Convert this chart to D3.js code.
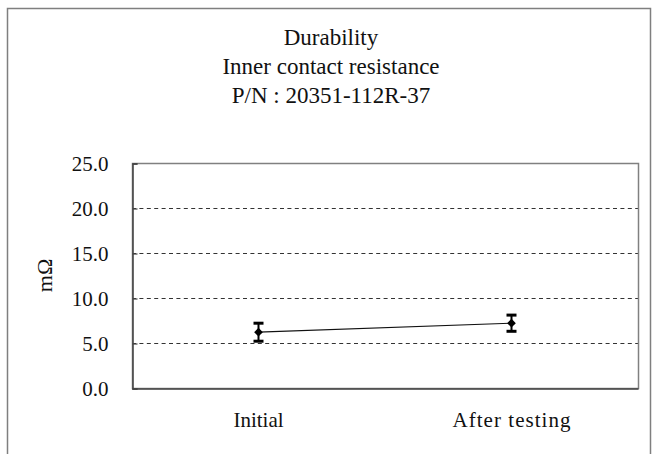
<!DOCTYPE html>
<html><head><meta charset="utf-8">
<script src="https://cdn.jsdelivr.net/npm/d3@7"></script>
<style>body{margin:0;background:#fff}svg{display:block}
svg text{font-family:"Liberation Serif","Times New Roman","DejaVu Serif",serif !important;}</style>
</head><body>
<script>
const categories = ["Initial", "After testing"];
const values = [6.2, 7.2];
const errors = [1.0, 0.9];
const yTicks = [0, 5, 10, 15, 20, 25];
const titleLines = ["Durability", "Inner contact resistance", "P/N : 20351-112R-37"];
const yLabel = "mΩ";

const W = 652, H = 454;
const svg = d3.select("body").append("svg").attr("width", W).attr("height", H);
const fs = 21;

svg.append("rect").attr("x", 7.5).attr("y", 8.5).attr("width", 643).attr("height", 470)
  .attr("fill", "#fff").attr("stroke", "#7f7f7f").attr("stroke-width", 1.5);

const L = 132, R = 638, T = 163, B = 388;
const x = d3.scaleBand().domain(categories).range([L, R]);
const y = d3.scaleLinear().domain([0, 25]).range([B, T]);

// gridlines
svg.append("g").selectAll("line").data(yTicks.filter(d => d > 0 && d < 25)).join("line")
  .attr("x1", L).attr("x2", R).attr("y1", d => y(d) + 0.5).attr("y2", d => y(d) + 0.5)
  .attr("stroke", "#333").attr("stroke-width", 1.2).attr("stroke-dasharray", "4,3.4");

// plot border
svg.append("rect").attr("x", L + 0.5).attr("y", T + 0.5).attr("width", R - L).attr("height", B - T)
  .attr("fill", "none").attr("stroke", "#808080").attr("stroke-width", 1.5);

// axes
const yAxis = d3.axisLeft(y).tickValues(yTicks).tickFormat(d3.format(".1f")).tickSize(-5).tickPadding(24);
const gy = svg.append("g").attr("transform", `translate(${L + 0.5},0.5)`).call(yAxis);
gy.select(".domain").attr("stroke", "#444").attr("stroke-width", 1.5);
gy.selectAll(".tick line").attr("stroke", "#444").attr("stroke-width", 1.2);
gy.selectAll("text").attr("font-size", fs).attr("fill", "#111");

const xAxis = d3.axisBottom(x).tickSize(0).tickPadding(24);
const gx = svg.append("g").attr("transform", `translate(0,${B + 0.5})`).call(xAxis);
gx.select(".domain").attr("stroke", "#444").attr("stroke-width", 1.5);
gx.selectAll("text").attr("font-size", fs).attr("fill", "#111")
  .attr("textLength", d => d === "After testing" ? 118 : null)
  .attr("lengthAdjust", "spacing");

// y label
svg.append("text").attr("transform", `translate(52,${(T + B) / 2}) rotate(-90)`)
  .attr("text-anchor", "middle").attr("font-size", 22).attr("fill", "#111")
  .text(yLabel);

// title
svg.append("g").selectAll("text").data(titleLines).join("text")
  .attr("x", 331).attr("y", (d, i) => 45 + i * 29).attr("text-anchor", "middle")
  .attr("font-size", 23).attr("fill", "#111").text(d => d);

const pts = categories.map((c, i) => ({c, v: values[i], e: errors[i]}));
const cx = d => x(d.c) + x.bandwidth() / 2;

// line
svg.append("path").datum(pts)
  .attr("d", d3.line().x(cx).y(d => y(d.v)))
  .attr("fill", "none").attr("stroke", "#111").attr("stroke-width", 1.2);

// error bars
const eb = svg.append("g").selectAll("g").data(pts).join("g");
eb.append("line").attr("x1", cx).attr("x2", cx).attr("y1", d => y(d.v + d.e)).attr("y2", d => y(d.v - d.e))
  .attr("stroke", "#000").attr("stroke-width", 2);
eb.append("line").attr("x1", d => cx(d) - 5).attr("x2", d => cx(d) + 5).attr("y1", d => y(d.v + d.e)).attr("y2", d => y(d.v + d.e))
  .attr("stroke", "#000").attr("stroke-width", 3);
eb.append("line").attr("x1", d => cx(d) - 5).attr("x2", d => cx(d) + 5).attr("y1", d => y(d.v - d.e)).attr("y2", d => y(d.v - d.e))
  .attr("stroke", "#000").attr("stroke-width", 3);

// markers
svg.append("g").selectAll("path").data(pts).join("path")
  .attr("transform", d => `translate(${cx(d)},${y(d.v)})`)
  .attr("d", d3.symbol(d3.symbolDiamond2, 48)).attr("fill", "#000");
</script>
</body></html>
